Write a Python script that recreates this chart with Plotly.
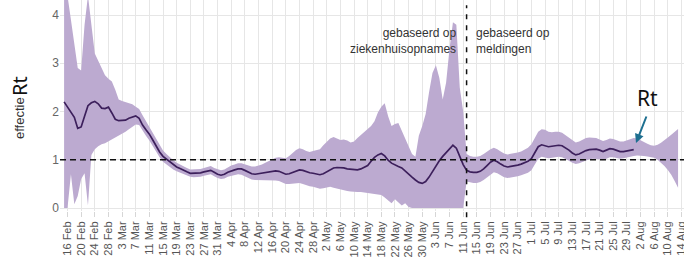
import pandas as pd
import plotly.graph_objects as go

# ---- data (daily, 15 Feb 2020 .. 13 Aug 2020) ----
rt_feb = [2.20, 2.10, 1.98, 1.88, 1.65, 1.68, 1.90, 2.12, 2.18, 2.21, 2.16, 2.07, 2.06, 2.09, 1.97]
rt_mar = [1.84, 1.81, 1.81, 1.82, 1.86, 1.89, 1.91, 1.86, 1.72, 1.62,
          1.53, 1.41, 1.28, 1.16, 1.07, 1.01, 0.95, 0.89, 0.85, 0.82,
          0.78, 0.75, 0.72, 0.72, 0.72, 0.73, 0.75, 0.77, 0.78, 0.74, 0.70]
rt_apr = [0.68, 0.70, 0.74, 0.77, 0.79, 0.81, 0.81, 0.78, 0.74, 0.71,
          0.70, 0.71, 0.72, 0.74, 0.75, 0.76, 0.77, 0.76, 0.73, 0.70,
          0.71, 0.74, 0.77, 0.79, 0.78, 0.75, 0.73, 0.72, 0.70, 0.69]
rt_may = [0.71, 0.75, 0.80, 0.83, 0.84, 0.84, 0.83, 0.81, 0.80, 0.79,
          0.79, 0.81, 0.84, 0.88, 0.97, 1.05, 1.10, 1.13, 1.08, 0.99,
          0.93, 0.89, 0.86, 0.83, 0.76, 0.69, 0.64, 0.58, 0.53, 0.51, 0.55]
rt_jun = [0.64, 0.76, 0.88, 0.98, 1.07, 1.15, 1.24, 1.30, 1.24, 1.08,
          0.90, 0.78, 0.75, 0.74, 0.74, 0.76, 0.81, 0.88, 0.95, 0.99,
          0.96, 0.91, 0.87, 0.85, 0.86, 0.87, 0.89, 0.91, 0.94, 0.97]
rt_jul = [1.02, 1.14, 1.27, 1.31, 1.29, 1.27, 1.28, 1.29, 1.30, 1.29,
          1.25, 1.20, 1.14, 1.10, 1.12, 1.16, 1.19, 1.21, 1.22, 1.22,
          1.20, 1.17, 1.20, 1.23, 1.22, 1.19, 1.17, 1.17, 1.18, 1.20, 1.21]

up_feb = [4.4, 4.4, 3.9, 3.4, 2.9, 2.85, 3.8, 4.4, 3.8, 3.2, 3.05, 2.9, 2.75, 2.68, 2.62]
up_mar = [2.45, 2.25, 2.22, 2.20, 2.18, 2.15, 2.10, 2.05, 1.92, 1.80,
          1.68, 1.55, 1.42, 1.30, 1.19, 1.12, 1.05, 0.99, 0.94, 0.90,
          0.86, 0.83, 0.80, 0.80, 0.80, 0.81, 0.83, 0.85, 0.87, 0.83, 0.80]
up_apr = [0.78, 0.80, 0.84, 0.88, 0.90, 0.93, 0.93, 0.91, 0.88, 0.86,
          0.86, 0.88, 0.90, 0.94, 0.97, 1.00, 1.04, 1.05, 1.04, 1.03,
          1.08, 1.15, 1.20, 1.24, 1.22, 1.18, 1.16, 1.18, 1.20, 1.22]
up_may = [1.30, 1.38, 1.44, 1.47, 1.44, 1.41, 1.42, 1.40, 1.36, 1.38,
          1.45, 1.52, 1.58, 1.64, 1.70, 1.80, 1.98, 2.10, 2.17, 1.90,
          1.70, 1.74, 1.76, 1.60, 1.42, 1.25, 1.12, 1.06, 1.50, 1.70, 1.95]
up_jun = [2.40, 2.80, 2.96, 2.70, 2.25, 2.60, 3.30, 3.85, 3.80, 2.50,
          2.00, 1.12, 1.08, 1.06, 1.06, 1.08, 1.12, 1.17, 1.22, 1.25,
          1.22, 1.17, 1.13, 1.11, 1.12, 1.13, 1.15, 1.17, 1.21, 1.25]
up_jul = [1.32, 1.45, 1.58, 1.63, 1.62, 1.58, 1.57, 1.58, 1.58, 1.56,
          1.51, 1.46, 1.40, 1.36, 1.38, 1.42, 1.45, 1.46, 1.46, 1.45,
          1.42, 1.39, 1.41, 1.44, 1.43, 1.40, 1.38, 1.38, 1.40, 1.43, 1.45]
up_aug = [1.44, 1.41, 1.37, 1.33, 1.30, 1.29, 1.31, 1.35, 1.40, 1.46, 1.52, 1.58, 1.64]

lo_feb = [0.00, 0.00, 0.70, 0.08, 0.25, 0.60, 0.72, 0.05, 1.10, 1.22, 1.28, 1.32, 1.34, 1.38, 1.41]
lo_mar = [1.46, 1.50, 1.54, 1.58, 1.63, 1.68, 1.73, 1.72, 1.60, 1.50,
          1.40, 1.28, 1.16, 1.05, 0.96, 0.90, 0.85, 0.80, 0.76, 0.73,
          0.70, 0.67, 0.65, 0.64, 0.64, 0.65, 0.67, 0.69, 0.70, 0.66, 0.62]
lo_apr = [0.60, 0.61, 0.65, 0.67, 0.69, 0.70, 0.69, 0.66, 0.62, 0.59,
          0.58, 0.58, 0.58, 0.58, 0.58, 0.57, 0.57, 0.56, 0.53, 0.50,
          0.50, 0.51, 0.52, 0.52, 0.50, 0.47, 0.45, 0.44, 0.42, 0.40]
lo_may = [0.41, 0.43, 0.44, 0.42, 0.40, 0.38, 0.36, 0.35, 0.34, 0.33,
          0.33, 0.33, 0.32, 0.31, 0.30, 0.30, 0.28, 0.27, 0.22, 0.15,
          0.10, 0.18, 0.12, 0.05, 0.10, 0.02, 0.00, 0.00, 0.00, 0.00, 0.00]
lo_jun = [0.00, 0.00, 0.00, 0.00, 0.00, 0.00, 0.00, 0.00, 0.00, 0.00,
          0.00, 0.55, 0.53, 0.52, 0.52, 0.54, 0.58, 0.64, 0.70, 0.74,
          0.72, 0.68, 0.64, 0.62, 0.63, 0.64, 0.66, 0.68, 0.70, 0.73]
lo_jul = [0.78, 0.90, 1.02, 1.06, 1.05, 1.03, 1.04, 1.05, 1.06, 1.05,
          1.02, 0.98, 0.94, 0.91, 0.93, 0.96, 0.99, 1.01, 1.02, 1.02,
          1.01, 0.99, 1.02, 1.05, 1.05, 1.03, 1.02, 1.03, 1.05, 1.07, 1.08]
lo_aug = [1.09, 1.09, 1.08, 1.07, 1.06, 1.04, 1.00, 0.94, 0.87, 0.79, 0.69, 0.56, 0.42]

tick_labels = ["16 Feb", "20 Feb", "24 Feb", "28 Feb", "3 Mar", "7 Mar", "11 Mar", "15 Mar",
               "19 Mar", "23 Mar", "27 Mar", "31 Mar", "4 Apr", "8 Apr", "12 Apr", "16 Apr",
               "20 Apr", "24 Apr", "28 Apr", "2 May", "6 May", "10 May", "14 May", "18 May",
               "22 May", "26 May", "30 May", "3 Jun", "7 Jun", "11 Jun", "15 Jun", "19 Jun",
               "23 Jun", "27 Jun", "1 Jul", "5 Jul", "9 Jul", "13 Jul", "17 Jul", "21 Jul",
               "25 Jul", "29 Jul", "2 Aug", "6 Aug", "10 Aug", "14 Aug"]
year = 2020
split_date = "2020-06-12"
start_date = "2020-02-15"

rt = rt_feb + rt_mar + rt_apr + rt_may + rt_jun + rt_jul
upper = up_feb + up_mar + up_apr + up_may + up_jun + up_jul + up_aug
lower = lo_feb + lo_mar + lo_apr + lo_may + lo_jun + lo_jul + lo_aug
dates = pd.date_range(start_date, periods=len(upper), freq="D")
tick_vals = [pd.to_datetime(f"{t} {year}", format="%d %b %Y") for t in tick_labels]

# ---- layout geometry ----
W, H = 684, 264
ML, MR, MT, MB = 60, 0, 0, 53
PW, PH = W - ML - MR, H - MT - MB


def px(x):
    return (x - ML) / PW


def py(y):
    return (MT + PH - y) / PH


fill_col = "#bcaad0"
line_col = "#3c1f5b"
font_fam = "Liberation Sans, Arial, sans-serif"

fig = go.Figure()
fig.add_trace(go.Scatter(x=dates, y=lower, mode="lines", line=dict(width=0, color=fill_col),
                         showlegend=False, hoverinfo="skip"))
fig.add_trace(go.Scatter(x=dates, y=upper, mode="lines", line=dict(width=0, color=fill_col),
                         fill="tonexty", fillcolor=fill_col, showlegend=False, hoverinfo="skip"))
fig.add_trace(go.Scatter(x=dates[:len(rt)], y=rt, mode="lines",
                         line=dict(width=1.7, color=line_col), showlegend=False))

# reference lines
fig.add_shape(type="line", xref="paper", yref="y", x0=0, x1=1, y0=1, y1=1,
              line=dict(color="#111", width=1.5, dash="6px,4px"), layer="above")
fig.add_shape(type="line", xref="x", yref="paper", x0=split_date, x1=split_date, y0=-0.03, y1=0.975,
              line=dict(color="#111", width=1.5, dash="5px,6px"), layer="above")

ann = []
ann.append(dict(text="gebaseerd op<br>ziekenhuisopnames", x=px(458), y=py(40.5),
                xanchor="right", yanchor="middle", align="right", showarrow=False,
                font=dict(size=12, color="#333", family=font_fam)))
ann.append(dict(text="gebaseerd op<br>meldingen", x=px(474), y=py(40.5),
                xanchor="left", yanchor="middle", align="left", showarrow=False,
                font=dict(size=12, color="#333", family=font_fam)))
ann.append(dict(text="Rt", x=px(647), y=py(98), xanchor="center", yanchor="middle",
                showarrow=False, font=dict(size=21, color="#111", family="Noto Sans, sans-serif")))
ann.append(dict(text="", x=px(636), y=py(143), ax=11, ay=-28, showarrow=True,
                arrowhead=2, arrowsize=0.9, arrowwidth=2, arrowcolor="#1e6f90"))
ann.append(dict(text="effectie", x=px(19), y=py(118), xanchor="center", yanchor="middle",
                textangle=-90, showarrow=False, font=dict(size=13, color="#333", family=font_fam)))
ann.append(dict(text="Rt", x=px(19), y=py(86), xanchor="center", yanchor="middle",
                textangle=-90, showarrow=False, font=dict(size=20, color="#111", family="Noto Sans, sans-serif")))
for a in ann:
    a["xref"] = "paper"
    a["yref"] = "paper"

fig.update_layout(
    width=W, height=H,
    margin=dict(l=ML, r=MR, t=MT, b=MB, pad=0),
    paper_bgcolor="white", plot_bgcolor="white",
    annotations=ann,
    xaxis=dict(range=["2020-02-13 19:12", "2020-08-14 17:45"],
               tickvals=tick_vals, ticktext=tick_labels, tickangle=-90,
               tickfont=dict(size=11, color="#555", family=font_fam),
               ticks="outside", ticklen=5, tickcolor="#d6d6d6",
               ticklabeloverflow="allow",
               showgrid=True, gridcolor="#e6e6e6", gridwidth=1,
               showline=False, zeroline=False, automargin=False),
    yaxis=dict(range=[-0.062, 4.311], tickvals=[0, 1, 2, 3, 4],
               tickfont=dict(size=12, color="#666", family=font_fam),
               showgrid=True, gridcolor="#e6e6e6", gridwidth=1,
               showline=False, zeroline=False, ticks="", automargin=False),
)

fig.write_html("out.html", config={"displayModeBar": False},
               post_script="document.body.style.margin='0';document.body.style.overflow='hidden';")
